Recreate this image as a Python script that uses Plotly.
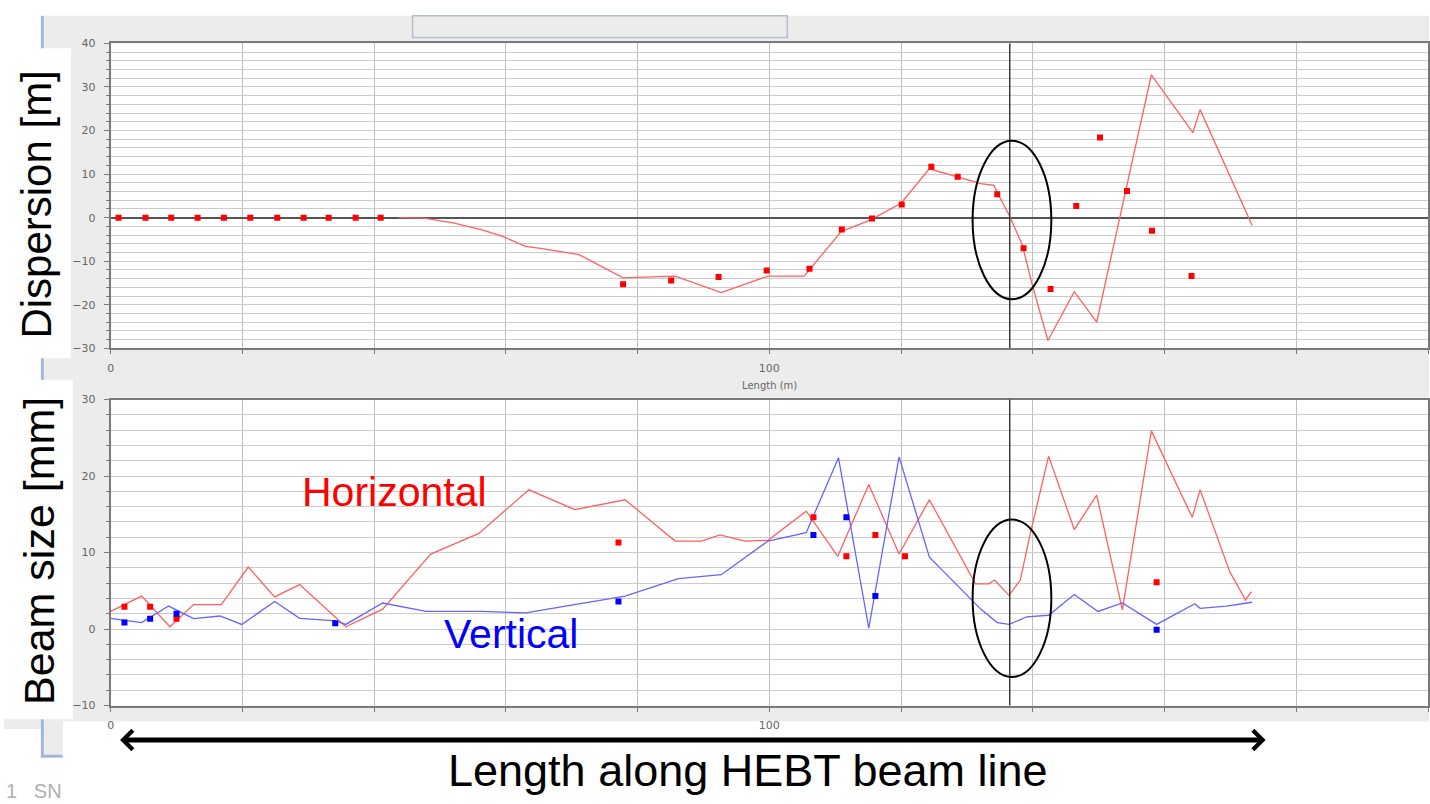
import plotly.graph_objects as go

W, H = 1430, 804

# ---------------- Dispersion panel (m) ----------------
disp_model_s = [43.8, 47.6, 52.0, 56.4, 59.5, 63.0, 65.5, 71.1, 77.8, 85.7, 92.7, 99.8,
                105.3, 110.9, 115.4, 120.0, 124.3, 128.5, 132.1, 134.1, 134.8, 136.4,
                138.4, 139.9, 142.3, 146.3, 149.7, 158.0, 164.3, 165.4, 173.3]
disp_model = [0.0, -0.1, -1.2, -2.8, -4.3, -6.6, -7.1, -8.5, -13.8, -13.4, -17.2, -13.4,
              -13.4, -3.2, -0.5, 3.3, 11.2, 9.3, 7.8, 7.4, 5.2, 0.6,
              -6.2, -15.3, -28.2, -17.0, -24.0, 32.8, 19.5, 24.8, -1.8]

disp_meas_s = [1.2, 5.3, 9.2, 13.2, 17.2, 21.2, 25.3, 29.3, 33.1, 37.2, 41.0,
               77.8, 85.1, 92.3, 99.6, 106.1, 111.0, 115.6, 120.1, 124.6, 128.6,
               134.6, 138.6, 142.7, 146.6, 150.2, 154.3, 158.1, 164.1]
disp_meas = [0, 0, 0, 0, 0, 0, 0, 0, 0, 0, 0,
             -15.3, -14.4, -13.6, -12.1, -11.7, -2.7, -0.2, 3.0, 11.7, 9.4,
             5.4, -7.0, -16.4, 2.7, 18.4, 6.1, -3.0, -13.4]

# ---------------- Beam size panel (mm) ----------------
size_h_model_s = [0, 4.7, 9.0, 12.6, 16.8, 20.9, 24.9, 28.7, 35.7, 41.3, 48.6, 55.9,
                  63.5, 70.5, 78.1, 85.7, 89.7, 92.5, 96.3, 99.8, 105.6, 110.4, 115.1,
                  119.7, 124.3, 131.3, 133.3, 134.2, 136.4, 138.1, 139.6, 142.4, 146.3,
                  149.7, 153.6, 158.0, 164.2, 165.4, 169.9, 172.3, 173.2]
size_h_model = [2.3, 4.3, 0.3, 3.2, 3.2, 8.1, 4.2, 5.8, 0.3, 2.6, 9.8, 12.5,
                18.2, 15.6, 16.9, 11.5, 11.5, 12.3, 11.5, 11.6, 15.4, 9.5, 18.9,
                9.8, 16.9, 5.9, 5.9, 6.4, 4.4, 6.4, 12.4, 22.6, 13.0,
                17.5, 2.5, 25.9, 14.6, 18.2, 7.5, 3.8, 4.9]

size_v_model_s = [0, 4.7, 8.8, 12.6, 16.6, 19.9, 24.9, 28.7, 34.2, 35.7, 41.3, 47.9,
                  56.4, 63.0, 78.1, 86.2, 92.7, 99.8, 105.6, 110.5, 115.1, 119.7, 124.3,
                  132.1, 134.6, 136.4, 139.1, 142.4, 146.3, 149.9, 153.6, 158.8, 164.6,
                  165.4, 169.4, 173.3]
size_v_model = [1.4, 0.84, 3.0, 1.35, 1.7, 0.6, 3.6, 1.4, 1.06, 0.6, 3.4, 2.3,
                2.3, 2.1, 4.3, 6.6, 7.1, 11.5, 12.6, 22.4, 0.1, 22.5, 9.4,
                2.6, 0.84, 0.6, 1.6, 1.8, 4.5, 2.3, 3.4, 0.6, 3.3,
                2.7, 3.0, 3.5]

size_h_meas_s = [2.1, 6.0, 10.0, 77.1, 106.7, 111.7, 116.1, 120.6, 158.8]
size_h_meas = [2.9, 2.9, 1.35, 11.3, 14.6, 9.5, 12.3, 9.5, 6.1]
size_v_meas_s = [2.1, 6.0, 10.0, 34.1, 77.1, 106.7, 111.7, 116.1, 158.8]
size_v_meas = [0.84, 1.35, 2.0, 0.76, 3.6, 12.3, 14.6, 4.3, -0.1]

cursor_s = 136.5

RED_LINE = "#ff6060"
BLUE_LINE = "#6464ff"
RED = "#ff0000"
BLUE = "#0000ff"
PANEL_GRAY = "#ececec"
FRAME_BLUE = "#9fb6d6"

# plot-area frames in pixels (left, top, right, bottom)
TOP_BOX = (107, 38, 1429, 348)
BOT_BOX = (107, 400, 1429, 711)

# gray window panels around the two plot canvases (left, top, right, bottom)
GRAY_PANELS = [
    (40, 10, 1430, 38), (40, 38, 107, 43), (67, 43, 107, 348),
    (67, 348, 1430, 358), (40, 358, 1430, 380), (69, 380, 1430, 400),
    (69, 400, 107, 711), (69, 711, 1430, 727), (1429, 38, 1430, 711),
    (0, 725, 37, 735), (40, 725, 69, 727), (40, 727, 59, 761),
]
BLUE_EDGES = [
    (37, 10, 40, 43), (37, 358, 40, 380), (37, 725, 40, 764), (37, 761, 59, 764),
]


def px(x):
    return x / W


def py(y):
    return 1 - y / H


def paper_rect(x0, y0, x1, y1, fill, line=None):
    return dict(type="rect", xref="paper", yref="paper",
                x0=px(x0), x1=px(x1), y0=py(y1), y1=py(y0),
                fillcolor=fill, line=line or dict(width=0), layer="below")


fig = go.Figure()

fig.add_trace(go.Scatter(x=disp_model_s, y=disp_model, mode="lines",
                         line=dict(color=RED_LINE, width=1.3), xaxis="x", yaxis="y"))
fig.add_trace(go.Scatter(x=disp_meas_s, y=disp_meas, mode="markers",
                         marker=dict(color=RED, size=6, symbol="square"), xaxis="x", yaxis="y"))

fig.add_trace(go.Scatter(x=size_h_model_s, y=size_h_model, mode="lines",
                         line=dict(color=RED_LINE, width=1.3), xaxis="x2", yaxis="y2"))
fig.add_trace(go.Scatter(x=size_v_model_s, y=size_v_model, mode="lines",
                         line=dict(color=BLUE_LINE, width=1.3), xaxis="x2", yaxis="y2"))
fig.add_trace(go.Scatter(x=size_h_meas_s, y=size_h_meas, mode="markers",
                         marker=dict(color=RED, size=6, symbol="square"), xaxis="x2", yaxis="y2"))
fig.add_trace(go.Scatter(x=size_v_meas_s, y=size_v_meas, mode="markers",
                         marker=dict(color=BLUE, size=6, symbol="square"), xaxis="x2", yaxis="y2"))

GRID_V = "#c0c0c0"
GRID_H = "#cccccc"
AXIS = "#7a7a7a"
TICKFONT = dict(family="DejaVu Sans", size=11, color="#666666")


def x_axis(anchor, box):
    return dict(
        domain=[px(box[0]), px(box[2])], range=[0, 200], anchor=anchor,
        tick0=0, dtick=100, ticks="outside", ticklen=4, tickcolor=AXIS,
        showgrid=True, gridcolor=GRID_V, gridwidth=1,
        minor=dict(dtick=20, tick0=0, showgrid=True, gridcolor=GRID_V, gridwidth=1,
                   ticks="outside", ticklen=4, tickcolor=AXIS),
        showline=True, linecolor=AXIS, linewidth=2, mirror=True,
        zeroline=False, tickfont=TICKFONT, ticklabelstandoff=4, fixedrange=True,
    )


def y_axis(anchor, box, rng, zero):
    return dict(
        domain=[py(box[3]), py(box[1])], range=rng, anchor=anchor,
        tick0=0, dtick=10, ticks="outside", ticklen=5, tickcolor=AXIS,
        showgrid=True, gridcolor=GRID_H, gridwidth=1,
        minor=dict(dtick=2, tick0=0, showgrid=True, gridcolor=GRID_H, gridwidth=1,
                   ticks="outside", ticklen=3, tickcolor=AXIS),
        showline=True, linecolor=AXIS, linewidth=2, mirror=True,
        zeroline=zero, zerolinecolor="#555555", zerolinewidth=1.5,
        tickfont=TICKFONT, ticklabelstandoff=6, fixedrange=True,
    )


shapes = [paper_rect(*r, PANEL_GRAY) for r in GRAY_PANELS]
shapes += [paper_rect(*r, FRAME_BLUE) for r in BLUE_EDGES]
shapes += [
    paper_rect(410, 10, 786, 32, PANEL_GRAY, dict(color="#b3bfcf", width=1.5)),
    # cursor at the selected position
    dict(type="line", xref="x", yref="y domain", x0=cursor_s, x1=cursor_s, y0=0, y1=1,
         line=dict(color="#3a3a3a", width=1.5)),
    dict(type="line", xref="x2", yref="y2 domain", x0=cursor_s, x1=cursor_s, y0=0, y1=1,
         line=dict(color="#3a3a3a", width=1.5)),
    # highlighted region
    dict(type="circle", xref="paper", yref="paper", x0=px(972), x1=px(1051), y0=py(298), y1=py(137),
         line=dict(color="black", width=2)),
    dict(type="circle", xref="paper", yref="paper", x0=px(972), x1=px(1051), y0=py(682), y1=py(522),
         line=dict(color="black", width=2)),
]

BIG = "Liberation Sans, Arial, sans-serif"
annotations = [
    dict(text="Dispersion [m]", xref="paper", yref="paper", x=px(33), y=py(202),
         textangle=-90, showarrow=False, font=dict(family=BIG, size=42, color="black"),
         xanchor="center", yanchor="middle"),
    dict(text="Beam size [mm]", xref="paper", yref="paper", x=px(35), y=py(554),
         textangle=-90, showarrow=False, font=dict(family=BIG, size=43, color="black"),
         xanchor="center", yanchor="middle"),
    dict(text="Length (m)", xref="paper", yref="paper", x=px(768), y=py(386),
         showarrow=False, font=dict(family="DejaVu Sans", size=10, color="#666666"),
         xanchor="center", yanchor="middle"),
    dict(text="Horizontal", xref="paper", yref="paper", x=px(392), y=py(494),
         showarrow=False, font=dict(family=BIG, size=41, color=RED),
         xanchor="center", yanchor="middle"),
    dict(text="Vertical", xref="paper", yref="paper", x=px(509), y=py(638),
         showarrow=False, font=dict(family=BIG, size=41, color=BLUE),
         xanchor="center", yanchor="middle"),
    dict(text="Length along HEBT beam line", xref="paper", yref="paper", x=px(747), y=py(777),
         showarrow=False, font=dict(family=BIG, size=45, color="black"),
         xanchor="center", yanchor="middle"),
    dict(text="1   SN", xref="paper", yref="paper", x=px(0), y=py(785),
         showarrow=False, font=dict(family=BIG, size=20, color="#b0b0b0"),
         xanchor="left", yanchor="top"),
    # double-headed arrow along the beam line
    dict(text="", xref="paper", yref="paper", x=px(1266), y=py(746),
         ax=-(1266 - 119), ay=0, showarrow=True, arrowside="end+start",
         arrowhead=4, startarrowhead=4, arrowsize=0.75, startarrowsize=0.75,
         arrowwidth=5, arrowcolor="black"),
]

fig.update_layout(
    width=W, height=H, autosize=False,
    margin=dict(l=0, r=0, t=0, b=0),
    paper_bgcolor="white", plot_bgcolor="white",
    showlegend=False,
    xaxis=x_axis("y", TOP_BOX),
    yaxis=y_axis("x", TOP_BOX, [-30, 40], True),
    xaxis2=x_axis("y2", BOT_BOX),
    yaxis2=y_axis("x2", BOT_BOX, [-10, 30], False),
    shapes=shapes,
    annotations=annotations,
)

fig.write_html("out.html", config={"displayModeBar": False})
